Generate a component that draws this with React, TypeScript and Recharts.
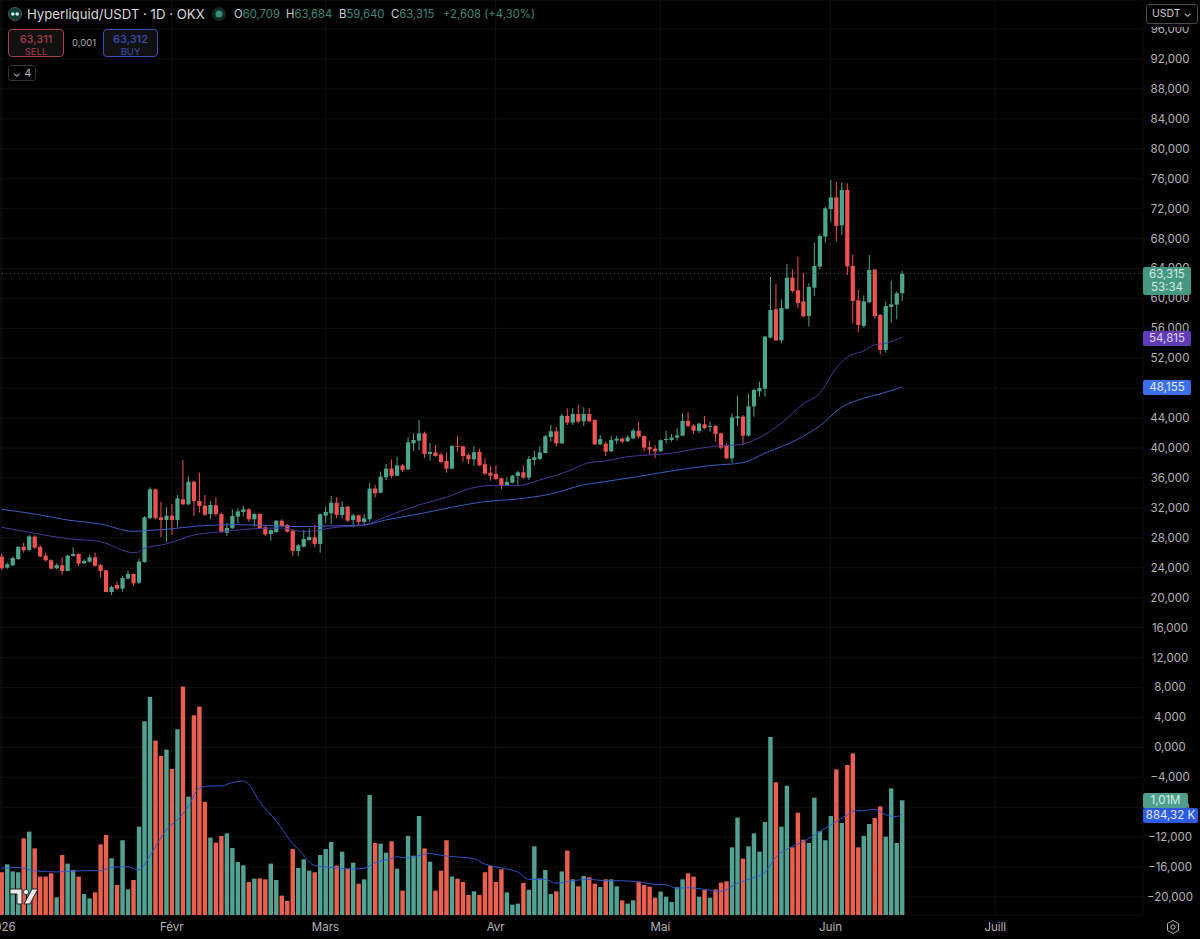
import React from "react";
import {
  ComposedChart, Bar, Line, XAxis, YAxis, CartesianGrid, ReferenceLine,
} from "recharts";

const opens = [
  25490,24020,24330,25180,26820,26380,28160,26780,25620,25000,
  23930,24330,23570,25580,25840,24600,24820,25400,24370,23660,
  20760,21700,21210,22550,23170,22010,24770,30610,34490,30740,
  30390,30970,30390,33150,32480,35510,32930,32300,31190,32350,
  31190,28690,29270,30830,31460,31810,30480,31190,29410,28520,
  28780,30300,29720,28960,26240,26820,27710,28070,27180,30970,
  31280,32700,31060,32170,30390,31010,30120,30480,34580,34040,
  36090,37250,36310,37690,37160,40630,40990,41970,39210,39430,
  39120,38270,37250,40280,40230,39080,38500,39480,37830,36710,
  36540,35960,35020,35380,36270,36760,36050,38410,38540,39340,
  41480,42240,40630,44290,43400,44550,43570,44550,43750,40500,
  40590,39570,40990,41260,40900,41300,42330,41610,40140,39920,
  39570,41080,41080,41390,41660,43620,43000,42280,43170,42820,
  42950,41970,40320,38630,43980,44200,41660,45580,47580,47940,
  54760,58540,54400,58630,62780,61080,59610,57650,61440,64250,
  68260,71950,73510,69770,74490,64340,59750,56320,59480,63850,
  57790,53110,58860,59170,60709,
];
const highs = [
  25930,24690,25490,26910,27360,28430,28380,27050,26020,25130,
  24600,25400,25750,26730,25930,25130,25710,26020,24510,23700,
  21610,22150,22900,23620,23260,25220,30920,34750,34580,32840,
  32080,32530,33730,38410,36180,35640,36710,33730,32930,33420,
  31370,30030,31810,31950,32260,31950,31280,31280,29590,29140,
  30390,30480,29850,29140,27180,29050,29270,29720,31280,32170,
  33600,33420,32840,32260,31190,31100,31190,35290,35070,36850,
  37870,38500,38850,37870,41440,41970,43750,42190,40630,40410,
  39390,39390,40370,41530,40320,39300,40280,39920,38630,37610,
  37690,36090,36090,36400,36980,37690,38940,39650,40280,41750,
  43080,42770,44550,45310,45310,45760,45450,45310,43840,41750,
  40860,41610,41610,41440,41700,42590,43530,41700,40990,40370,
  41170,42330,41880,42640,44640,44780,43220,43400,44290,43530,
  43080,42060,40630,44640,47010,44420,47230,47990,48880,54980,
  62910,61930,59880,64600,63890,65580,63350,62020,67450,68570,
  72270,75830,75610,75470,75380,65850,61130,60410,65810,63930,
  57920,59570,62370,60900,63684,
];
const lows = [
  23700,23880,24240,25040,26020,26160,26470,25400,24820,23790,
  23790,23080,23530,25490,24240,24510,24690,24150,22720,20760,
  20360,21030,20810,22460,21570,21830,24690,30570,30480,28070,
  27400,28380,29410,32350,32390,30920,31370,30920,30480,30920,
  28690,28250,29230,29940,30920,30160,29500,29140,28250,27630,
  28690,29500,28690,25580,25580,26730,27630,26730,26020,29940,
  29850,30610,30610,30120,29410,29720,29590,30170,33420,33950,
  35730,35960,36270,36800,37070,39610,39740,38630,38320,38850,
  37960,36710,37160,39520,38180,37870,37610,37610,36400,35640,
  35730,34490,34980,35290,35020,35910,35730,37690,38410,39300,
  40860,40190,40550,43080,43080,43310,42950,43530,40410,40410,
  38940,39480,40550,40630,40810,41170,41260,39520,39080,38630,
  39480,40630,40860,40990,41610,42770,41880,41970,42510,42190,
  40860,39830,38500,38050,42950,40410,41530,44200,46870,46870,
  54670,54310,54000,58540,60770,58680,57470,56230,60330,63890,
  67450,70260,67590,68480,63130,56670,55470,56090,59350,57340,
  52570,52750,56760,57210,59640,
];
const closes = [
  23930,24460,25310,26780,26330,28200,26690,25530,25000,23880,
  24370,23570,25620,25840,24550,24910,25400,24280,23570,20760,
  21430,21210,22640,23170,21920,24820,30740,34490,30610,30390,
  30970,30390,33280,32480,35510,32930,32260,31100,32390,31190,
  28740,29320,30920,31550,31810,30480,31190,29320,28470,29050,
  30300,29590,28830,26240,27000,27850,28120,27180,31150,31460,
  32700,31060,32130,30300,31010,30120,30610,34580,33950,36180,
  37250,36270,37690,37070,40770,41080,41970,39210,39480,38940,
  38140,37250,40280,40190,38940,38500,39430,37690,36580,36310,
  35870,34930,35470,36310,36760,36050,38540,38760,39430,41570,
  42240,40630,44330,43400,44550,43530,44550,43570,40500,41200,
  39520,41080,41260,40860,41440,42330,41530,40060,39830,39570,
  41040,41210,41390,41700,43620,42950,42330,43260,42680,42950,
  41880,40060,38630,44110,44240,41660,45580,47760,48030,54890,
  58450,54400,58720,62780,60990,59390,57610,61530,64340,68340,
  72040,73510,69680,74490,64290,59660,56450,59610,63800,57650,
  53110,58990,59210,60680,63315,
];
const volumesM = [
  0.375,0.445,0.383,0.375,0.673,0.732,0.585,0.337,0.337,0.366,
  0.155,0.527,0.451,0.395,0.337,0.184,0.146,0.199,0.620,0.702,
  0.498,0.263,0.656,0.225,0.307,0.776,1.700,1.914,1.531,1.396,
  1.452,1.282,1.630,2.005,1.039,1.753,1.829,0.992,0.679,0.635,
  0.694,0.717,0.588,0.465,0.436,0.290,0.319,0.322,0.313,0.451,
  0.307,0.170,0.123,0.579,0.413,0.489,0.389,0.375,0.527,0.579,
  0.641,0.433,0.556,0.407,0.459,0.275,0.313,1.054,0.632,0.626,
  0.547,0.647,0.407,0.214,0.694,0.521,0.869,0.585,0.468,0.214,
  0.389,0.656,0.337,0.319,0.290,0.176,0.208,0.176,0.375,0.433,
  0.290,0.401,0.199,0.091,0.100,0.281,0.222,0.603,0.322,0.395,
  0.184,0.208,0.383,0.565,0.313,0.252,0.342,0.331,0.275,0.246,
  0.313,0.313,0.252,0.129,0.100,0.129,0.293,0.263,0.249,0.152,
  0.205,0.161,0.114,0.243,0.313,0.366,0.337,0.161,0.219,0.152,
  0.225,0.284,0.296,0.594,0.855,0.495,0.603,0.717,0.556,0.816,
  1.563,1.165,0.776,1.135,0.594,0.898,0.661,0.632,1.030,0.735,
  0.656,0.869,1.279,0.808,1.317,1.419,0.594,0.694,0.799,0.852,
  0.954,0.688,1.112,0.632,1.007,
];
const maPurple: [number, number][] = [
  [0,29410],[6,28610],[12,27890],[18,27490],[24,26020],[25,26110],[26,26600],[30,27180],[35,28380],[39,28740],
  [45,29180],[51,29320],[55,28830],[58,29050],[60,29320],[66,29720],[70,30830],[76,32390],[81,33420],[85,34530],
  [89,34980],[94,34980],[98,35730],[103,36850],[107,38050],[110,38270],[114,38850],[118,39080],[122,39300],[126,39830],
  [131,40320],[134,40410],[138,41390],[142,43310],[146,45890],[149,47320],[152,50660],[154,52130],[157,52980],[159,53780],
  [161,54000],[164,54815],
];
const maBlue: [number, number][] = [
  [0,31810],[6,31190],[12,30390],[18,29850],[24,28870],[26,28960],[30,29140],[36,29590],[42,29760],[48,29670],
  [54,29500],[60,29590],[66,29720],[70,30390],[76,31190],[82,32080],[88,32840],[94,33190],[100,33860],[106,35070],
  [109,35420],[116,36200],[120,36700],[124,37160],[129,37650],[135,38050],[139,39300],[145,41170],[149,42950],[153,45450],
  [157,46650],[160,47230],[164,48155],
];
const maVolume: [number, number][] = [
  [0,0.410],[3,0.418],[6,0.389],[10,0.378],[15,0.389],[18,0.389],[20,0.418],[23,0.424],[25,0.395],[27,0.518],
  [30,0.746],[32,0.834],[34,0.951],[36,1.112],[38,1.133],[40,1.133],[42,1.162],[44,1.176],[45,1.150],[47,0.995],
  [50,0.828],[53,0.629],[55,0.527],[56,0.468],[57,0.436],[60,0.418],[64,0.404],[66,0.410],[68,0.459],[71,0.495],
  [72,0.512],[74,0.500],[76,0.521],[78,0.541],[79,0.533],[81,0.518],[84,0.506],[86,0.495],[88,0.448],[91,0.413],
  [94,0.378],[96,0.313],[99,0.313],[101,0.278],[104,0.301],[107,0.313],[110,0.301],[113,0.301],[116,0.290],[119,0.269],
  [121,0.266],[123,0.234],[125,0.240],[128,0.225],[131,0.208],[134,0.278],[136,0.313],[139,0.372],[141,0.506],[144,0.600],
  [146,0.644],[149,0.732],[151,0.790],[154,0.878],[155,0.913],[157,0.916],[159,0.928],[161,0.881],[163,0.863],[164,0.884],
];
const monthTicks = [0, 31, 59, 90, 120, 151, 181];
const monthLabels = ["2026", "Févr", "Mars", "Avr", "Mai", "Juin", "Juill"];
const priceTicks = [
  96000,92000,88000,84000,80000,76000,72000,68000,64000,60000,56000,52000,48000,44000,40000,36000,
  32000,28000,24000,20000,16000,12000,8000,4000,0,-4000,-8000,-12000,-16000,-20000,
];
const GREEN = "#4aa68d";
const RED = "#ef5350";
const VOL_GREEN = "#52a193";
const VOL_RED = "#e9604f";
const FONT = "Inter, Roboto, sans-serif";

const lookup = (pairs: [number, number][]) => new Map(pairs);
const purpleMap = lookup(maPurple);
const blueMap = lookup(maBlue);
const volMap = lookup(maVolume);

const table = opens.map((open, i) => ({
  i,
  open,
  high: highs[i],
  low: lows[i],
  close: closes[i],
  volume: volumesM[i],
  purple: purpleMap.get(i),
  blue: blueMap.get(i),
  volMa: volMap.get(i),
}));

const formatPrice = (v: number) => {
  const abs = Math.abs(v);
  const head = Math.floor(abs / 1000);
  const s = `${head},000`;
  return v < 0 ? `\u2212${s}` : s;
};

const PriceTick = (p: any) => (
  <text x={1170} y={p.y + 4} textAnchor="middle" fill="#b4b4b4" fontSize={11.5} fontFamily={FONT}>
    {formatPrice(p.payload.value)}
  </text>
);
const MonthTick = (p: any) => (
  <text x={p.x} y={931} textAnchor="middle" fill="#b4b4b4" fontSize={11.5} fontFamily={FONT}>
    {monthLabels[monthTicks.indexOf(p.payload.value)]}
  </text>
);

const Candle = (p: any) => {
  const { x, y, width, height, payload } = p;
  const { open, close, high, low } = payload;
  const unit = height / Math.max(high - low, 1);
  const up = close >= open;
  const color = up ? GREEN : RED;
  const top = y + (high - Math.max(open, close)) * unit;
  const h = Math.max(Math.abs(open - close) * unit, 1);
  const cx = x + width / 2;
  const w = 4.2;
  return (
    <g>
      <line x1={cx} x2={cx} y1={y} y2={y + height} stroke={color} strokeWidth={1} />
      <rect x={cx - w / 2} y={top} width={w} height={h} fill={color} />
    </g>
  );
};
const VolumeBar = (p: any) => {
  const { x, y, width, height, payload } = p;
  const cx = x + width / 2;
  const w = 4.4;
  return <rect x={cx - w / 2} y={y} width={w} height={height} fill={payload.close >= payload.open ? VOL_GREEN : VOL_RED} />;
};

const abs = (s: React.CSSProperties): React.CSSProperties => ({
  position: "absolute",
  whiteSpace: "nowrap",
  fontFamily: FONT,
  lineHeight: 1,
  ...s,
});
const Badge = ({ top, h, w, bg, color, lines }: { top: number; h: number; w: number; bg: string; color: string; lines: string[] }) => (
  <div style={abs({ left: 1143, top, width: w, height: h, background: bg, color, borderRadius: 2, fontSize: 11.5, textAlign: "center", display: "flex", flexDirection: "column", justifyContent: "center", gap: 2 })}>
    {lines.map((l) => <span key={l}>{l}</span>)}
  </div>
);
const Quote = ({ left, k, v }: { left: number; k: string; v: string }) => (
  <span style={abs({ left, top: 9, fontSize: 11.3 })}>
    <span style={{ color: "#cfcfcf" }}>{k}</span>
    <span style={{ color: "#3f8a76" }}>{v}</span>
  </span>
);
const TradeBox = ({ left, w, color, price, label }: { left: number; w: number; color: string; price: string; label: string }) => (
  <div style={abs({ left, top: 29, width: w, height: 28, boxSizing: "border-box", border: `1px solid ${color}`, borderRadius: 4, background: "#111111", textAlign: "center", color })}>
    <div style={{ fontSize: 11, marginTop: 4, fontWeight: 500 }}>{price}</div>
    <div style={{ fontSize: 9.5, marginTop: 2 }}>{label}</div>
  </div>
);

export default function App() {
  return (
    <div style={{ position: "fixed", left: 0, top: 0, width: 1200, height: 939, background: "#000", overflow: "hidden" }}>
      <ComposedChart width={1200} height={939} data={table} margin={{ top: 0, right: 0, bottom: 0, left: 0 }} barGap={0}>
        <CartesianGrid yAxisId="price" stroke="#101010" strokeWidth={1} />
        <XAxis
          type="number"
          dataKey="i"
          domain={[-0.273, 207.9]}
          allowDataOverflow
          ticks={monthTicks}
          interval={0}
          height={24}
          axisLine={false}
          tickLine={false}
          tick={<MonthTick />}
        />
        <XAxis xAxisId="vol" type="number" dataKey="i" domain={[-0.273, 207.9]} allowDataOverflow hide />
        <YAxis
          yAxisId="price"
          orientation="right"
          width={57}
          domain={[-22408, 99885]}
          allowDataOverflow
          ticks={priceTicks}
          interval={0}
          axisLine={false}
          tickLine={false}
          tick={<PriceTick />}
        />
        <YAxis yAxisId="volume" hide domain={[0, 8.033]} allowDataOverflow />
        <Bar xAxisId="vol" yAxisId="volume" dataKey="volume" barSize={4} shape={<VolumeBar />} isAnimationActive={false} />
        <Bar yAxisId="price" dataKey={(d: any) => [d.low, d.high]} barSize={4} shape={<Candle />} isAnimationActive={false} />
        <ReferenceLine yAxisId="price" y={63315} stroke="#5a5a5a" strokeDasharray="1 3" />
        <Line yAxisId="price" dataKey="blue" type="monotone" connectNulls stroke="#3b5fc4" strokeWidth={1} dot={false} activeDot={false} isAnimationActive={false} />
        <Line yAxisId="price" dataKey="purple" type="monotone" connectNulls stroke="#46389c" strokeWidth={1} dot={false} activeDot={false} isAnimationActive={false} />
        <Line yAxisId="volume" dataKey="volMa" type="monotone" connectNulls stroke="#2f55c8" strokeWidth={1} dot={false} activeDot={false} isAnimationActive={false} />
      </ComposedChart>

      {/* Header */}
      <svg style={{ position: "absolute", left: 8, top: 7 }} width={14} height={14}>
        <circle cx={7} cy={7} r={6.5} fill="#0f3b3a" stroke="#555" />
        <circle cx={4.8} cy={7} r={1.8} fill="#cfeee8" />
        <circle cx={9.2} cy={7} r={1.8} fill="#cfeee8" />
      </svg>
      <div style={abs({ left: 27, top: 8, fontSize: 13.2, color: "#d9d9d9" })}>Hyperliquid/USDT · 1D · OKX</div>
      <svg style={{ position: "absolute", left: 212, top: 7 }} width={14} height={14}>
        <circle cx={7} cy={7} r={7} fill="#0f2a25" />
        <circle cx={7} cy={7} r={3.5} fill="#3f8a76" />
      </svg>
      <Quote left={234} k="O" v="60,709" />
      <Quote left={286} k="H" v="63,684" />
      <Quote left={339} k="B" v="59,640" />
      <Quote left={391} k="C" v="63,315" />
      <span style={abs({ left: 443, top: 9, fontSize: 11.3, color: "#3f8a76" })}>+2,608 (+4,30%)</span>

      <TradeBox left={8} w={56} color="#a93f48" price="63,311" label="SELL" />
      <div style={abs({ left: 72, top: 38, fontSize: 9.5, color: "#aaaaaa" })}>0,001</div>
      <TradeBox left={103} w={55} color="#3b50b4" price="63,312" label="BUY" />
      <div style={abs({ left: 8, top: 65, width: 28, height: 16, boxSizing: "border-box", border: "1px solid #333", borderRadius: 3, color: "#bbbbbb", fontSize: 11, textAlign: "center", paddingTop: 2 })}>⌄ 4</div>

      {/* The price scale's top strip hides the upper part of the highest label */}
      <div style={{ position: "absolute", left: 1143, top: 0, width: 57, height: 27, background: "#000" }} />
      <div style={abs({ left: 1146, top: 4, width: 52, height: 20, boxSizing: "border-box", background: "#000", border: "1px solid #4a4a4a", borderRadius: 3, color: "#c8c8c8", fontSize: 10.5, paddingTop: 4, paddingLeft: 5 })}>USDT ⌄</div>

      {/* Scale badges */}
      <Badge top={267} h={28} w={48} bg="#46977f" color="#d5ece6" lines={["63,315", "53:34"]} />
      <Badge top={331} h={15} w={48} bg="#5f3bb5" color="#dcd4f2" lines={["54,815"]} />
      <Badge top={380} h={15} w={48} bg="#3b6fe8" color="#e1e9fb" lines={["48,155"]} />
      <Badge top={793} h={15} w={45} bg="#4f9e8e" color="#d5ece6" lines={["1,01M"]} />
      <Badge top={808} h={15} w={55} bg="#2f5be0" color="#e1e9fb" lines={["884,32 K"]} />

      {/* Settings hexagon */}
      <svg style={{ position: "absolute", left: 1165, top: 919 }} width={16} height={16} viewBox="0 0 16 16">
        <path d="M8 1.5 L13.5 4.5 V11.5 L8 14.5 L2.5 11.5 V4.5 Z" fill="none" stroke="#b4b4b4" strokeWidth={1} />
        <circle cx={8} cy={8} r={2.2} fill="none" stroke="#b4b4b4" strokeWidth={1} />
      </svg>

      {/* Watermark */}
      <svg style={{ position: "absolute", left: 9, top: 887 }} width={30} height={20} viewBox="0 0 30 20">
        <path d="M1 2 H13 V17 H8 V7 H1 Z" fill="#e8e8e8" stroke="#222" strokeWidth={1} />
        <circle cx={17} cy={5} r={2.6} fill="#e8e8e8" stroke="#222" strokeWidth={0.8} />
        <path d="M23 2 H29 L21 17 H15 Z" fill="#e8e8e8" stroke="#222" strokeWidth={1} />
      </svg>
    </div>
  );
}
